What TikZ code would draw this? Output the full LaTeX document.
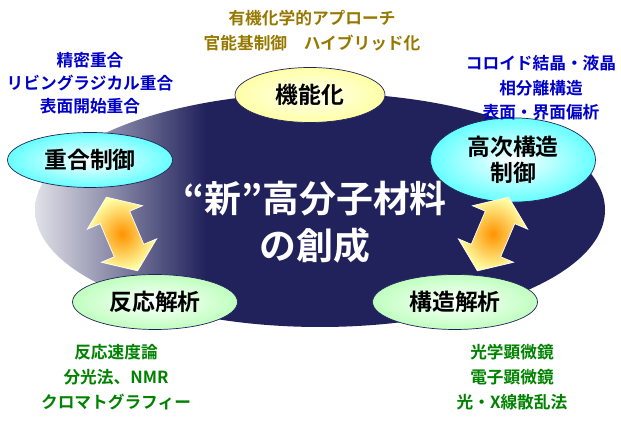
\documentclass[tikz,border=0pt]{standalone}
\usepackage{fontspec}
\setmainfont{Noto Sans CJK JP}[BoldFont={* Bold}]
\usetikzlibrary{shapes.geometric}

\definecolor{navy}{RGB}{33,33,92}
\definecolor{fadegray}{RGB}{225,225,232}
\definecolor{topcol}{RGB}{150,120,0}
\definecolor{leftcol}{RGB}{0,0,200}
\definecolor{botcol}{RGB}{0,130,0}

\pgfdeclarehorizontalshading{bgfade}{100bp}{color(0bp)=(fadegray); color(25bp)=(fadegray);
  color(40bp)=(navy); color(100bp)=(navy)}

\tikzset{
  topic/.style={ellipse,draw=navy,thin,minimum width=3.3cm,minimum height=1.1cm,
    font=\fontsize{13}{15}\selectfont\bfseries,align=center},
  note/.style={font=\fontsize{9.5}{11}\selectfont\bfseries},
  swap/.style={draw=white,thin,shading=radial,inner color=orange!85!yellow,
    outer color=yellow!35}
}

\begin{document}
\begin{tikzpicture}[x=0.02cm,y=-0.02cm]
  \useasboundingbox (0,0) rectangle (621,421);

  % background
  \shade[shading=bgfade] (320,210) ellipse (285 and 117);

  \node[white,font=\fontsize{21}{27}\selectfont\bfseries,align=center] (core) at (315,222)
    {“新”高分子材料\\の創成};

  % topics
  \node[topic,inner color=yellow!5,outer color=yellow!35,minimum width=3cm] (func) at (310,95) {機能化};
  \node[topic,inner color=white,outer color=cyan!60] (poly) at (90,160) {重合制御};
  \node[topic,inner color=white,outer color=cyan!60] (high) at (513,160) {高次構造\\制御};
  \node[topic,inner color=white,outer color=green!25] (react) at (155,302) {反応解析};
  \node[topic,inner color=white,outer color=green!25] (struct) at (455,302) {構造解析};

  % double arrows
  \foreach \px/\py/\ang in {122/234/-67, 493/234/-113}
    \shade[swap,shift={(\px,\py)},rotate=\ang]
      (-40,0) -- (-18,-30) -- (-18,-16) -- (18,-16) -- (18,-30) -- (40,0)
      -- (18,30) -- (18,16) -- (-18,16) -- (-18,30) -- cycle;

  % notes
  \node[note,text=topcol] (t1) at (312,18) {有機化学的アプローチ};
  \node[note,text=topcol] (t2) at (312,43) {官能基制御\quad ハイブリッド化};

  \node[note,text=leftcol] (l1) at (90,60) {精密重合};
  \node[note,text=leftcol] (l2) at (90,83) {リビングラジカル重合};
  \node[note,text=leftcol] (l3) at (90,106) {表面開始重合};

  \node[note,text=leftcol] (r1) at (541,63) {コロイド結晶・液晶};
  \node[note,text=leftcol] (r2) at (541,88) {相分離構造};
  \node[note,text=leftcol] (r3) at (541,112) {表面・界面偏析};

  \node[note,text=botcol] (b1) at (116,352) {反応速度論};
  \node[note,text=botcol] (b2) at (116,377) {分光法、NMR};
  \node[note,text=botcol] (b3) at (116,402) {クロマトグラフィー};

  \node[note,text=botcol] (c1) at (512,352) {光学顕微鏡};
  \node[note,text=botcol] (c2) at (512,377) {電子顕微鏡};
  \node[note,text=botcol] (c3) at (512,402) {光・X線散乱法};
\end{tikzpicture}
\end{document}
